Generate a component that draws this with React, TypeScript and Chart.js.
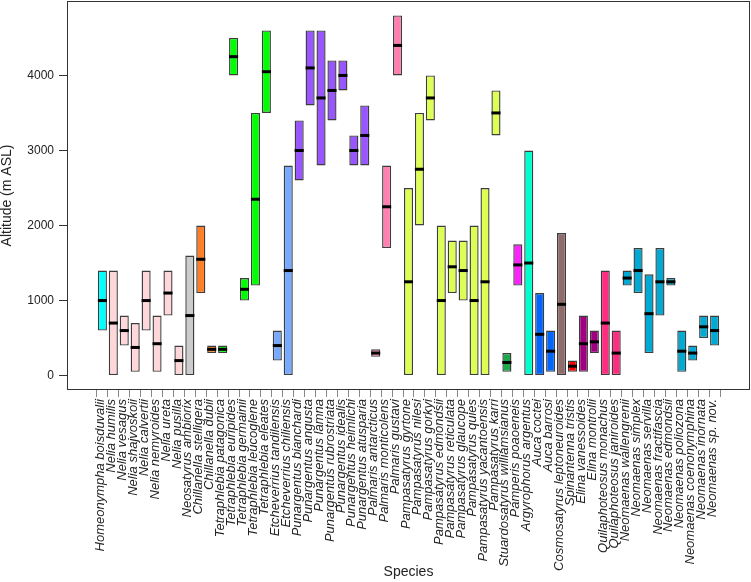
import React, { useEffect, useRef } from "react";
import { Chart, registerables } from "chart.js";

Chart.register(...registerables);

const species = [
  "Homeonympha boisduvalii", "Nelia humilis", "Nelia vesagus", "Nelia shajvoskoii", "Nelia calvertii",
  "Nelia nemyroides", "Nelia ureta", "Nelia pusilla", "Neosatyrus ambiorix", "Chillanella stelligera",
  "Chillanella dubii", "Tetraphlebia patagonica", "Tetraphlebia euripides", "Tetraphlebia germainii",
  "Tetraphlebia leucoglene", "Tetraphlebia eleates", "Etcheverrius tandilensis", "Etcheverrius chiliensis",
  "Punargentus bianchardi", "Punargentus angusta", "Punargentus lamna", "Punargentus rubrostriata",
  "Punargentus idealis", "Punargentus heimlichi", "Punargentus atusparia", "Palmaris antarcticus",
  "Palmaris monticolens", "Palmaris gustavi", "Pampasatyrus gyrtone", "Pampasatyrus nilesi",
  "Pampasatyrus gorkyi", "Pampasatyrus edmondsii", "Pampasatyrus reticulata", "Pampasatyrus glaucope",
  "Pampasatyrus quies", "Pampasatyrus yacantoensis", "Pampasatyrus karri", "Stuardosatyrus williamsianus",
  "Pamperis poaoeneis", "Argyrophorus argentus", "Auca coctei", "Auca barrosi",
  "Cosmosatyrus leptoneuroides", "Spinantenna tristis", "Elina vanessoides", "Elina montrolii",
  "Quilaphoteosus monachus", "Quilaphoteosus janiroides", "Neomaenas wallengrenii", "Neomaenas simplex",
  "Neomaenas servilla", "Neomaenas fractifascia", "Neomaenas edmondsii", "Neomaenas poliozona",
  "Neomaenas coenonymphina", "Neomaenas inornata", "Neomaenas sp. nov.",
];

const minAltitude = [
  600, 0, 400, 50, 600, 50, 800, 0, 0, 1100,
  300, 300, 4000, 1000, 1200, 3500, 200, 0, 2600, 3600,
  2800, 3400, 3800, 2800, 2800, 250, 1700, 4000, 0, 2000,
  3400, 0, 1100, 1000, 0, 0, 3200, 50, 1200, 0,
  0, 50, 0, 50, 50, 300, 0, 0, 1200, 1100,
  300, 800, 1200, 50, 200, 500, 400,
];

const maxAltitude = [
  1400, 1400, 800, 700, 1400, 800, 1400, 400, 1600, 2000,
  400, 400, 4500, 1300, 3500, 4600, 600, 2800, 3400, 4600,
  4600, 4200, 4200, 3200, 3600, 350, 2800, 4800, 2500, 3500,
  4000, 2000, 1800, 1800, 2000, 2500, 3800, 300, 1750, 3000,
  1100, 600, 1900, 200, 800, 600, 1400, 600, 1400, 1700,
  1350, 1700, 1300, 600, 400, 800, 800,
];

const medianAltitude = [
  1000, 700, 600, 375, 1000, 425, 1100, 200, 800, 1550,
  350, 350, 4250, 1150, 2350, 4050, 400, 1400, 3000, 4100,
  3700, 3800, 4000, 3000, 3200, 300, 2250, 4400, 1250, 2750,
  3700, 1000, 1450, 1400, 1000, 1250, 3500, 175, 1475, 1500,
  550, 325, 950, 125, 425, 450, 700, 300, 1300, 1400,
  825, 1250, 1250, 325, 300, 650, 600,
];

const yTickValues = [0, 1000, 2000, 3000, 4000];

const genusColors: Record<string, string> = {
  Homeonympha: "#00FFFF",
  Nelia: "#FFD7DA",
  Neosatyrus: "#CCCCCC",
  Chillanella: "#FF7F27",
  Tetraphlebia: "#00FF00",
  Etcheverrius: "#77AAFF",
  Punargentus: "#9955FF",
  Palmaris: "#FF80B0",
  Pampasatyrus: "#DDFF55",
  Stuardosatyrus: "#1DAA4A",
  Pamperis: "#FF22FF",
  Argyrophorus: "#00FFCC",
  Auca: "#0066FF",
  Cosmosatyrus: "#8F6B6B",
  Spinantenna: "#FF0000",
  Elina: "#A00080",
  Quilaphoteosus: "#FF2D80",
  Neomaenas: "#00AAD4",
};

const FONT = "'Liberation Sans', Arial, Helvetica, sans-serif";
const MEDIAN_HALF = 20; // half thickness of the median mark, in altitude units

const boxPlugin = {
  id: "plotBox",
  afterDraw(chart: any) {
    const { ctx, chartArea } = chart;
    ctx.save();
    ctx.strokeStyle = "#333333";
    ctx.lineWidth = 1;
    ctx.strokeRect(chartArea.left + 0.5, chartArea.top + 0.5, chartArea.right - chartArea.left - 1, chartArea.bottom - chartArea.top - 1);
    ctx.restore();
  },
};

export default function App() {
  const canvasRef = useRef<HTMLCanvasElement | null>(null);

  useEffect(() => {
    if (!canvasRef.current) return;
    const xs = species.map((_, i) => i + 1);
    const colors = species.map((s) => genusColors[s.split(" ")[0]] || "#999999");

    const chart = new Chart(canvasRef.current, {
      type: "bar",
      data: {
        datasets: [
          {
            label: "Median",
            order: 0,
            data: xs.map((x, i) => ({ x, y: [medianAltitude[i] - MEDIAN_HALF, medianAltitude[i] + MEDIAN_HALF] })) as any,
            backgroundColor: "#000000",
            borderWidth: 0,
            categoryPercentage: 1,
            barPercentage: 0.83,
            grouped: false,
          } as any,
          {
            label: "Range",
            order: 1,
            data: xs.map((x, i) => ({ x, y: [minAltitude[i], maxAltitude[i]] })) as any,
            backgroundColor: colors,
            borderColor: "rgba(40,40,40,0.9)",
            borderWidth: 1.4,
            borderSkipped: false,
            categoryPercentage: 1,
            barPercentage: 0.83,
            grouped: false,
          } as any,
        ],
      },
      options: {
        animation: false,
        responsive: true,
        maintainAspectRatio: false,
        layout: { autoPadding: false, padding: { top: 1, right: 1, left: 0, bottom: 0 } } as any,
        plugins: {
          legend: { display: false },
          tooltip: { enabled: false },
        },
        events: [],
        scales: {
          x: {
            type: "linear",
            min: -1.69,
            max: 59.69,
            afterFit(scale: any) {
              scale.height = 192;
              scale.paddingLeft = 0;
              scale.paddingRight = 0;
            },
            afterBuildTicks(scale: any) {
              scale.ticks = xs.map((v) => ({ value: v }));
            },
            grid: {
              display: true,
              drawOnChartArea: false,
              drawTicks: true,
              tickLength: 7,
              color: "#888888",
              lineWidth: 1,
            },
            border: { display: false },
            ticks: {
              autoSkip: false,
              maxRotation: 90,
              minRotation: 90,
              padding: 2,
              labelOffset: -2,
              color: "#222222",
              font: { family: FONT, size: 13, style: "italic" },
              callback: (v: any) => species[Number(v) - 1] ?? "",
            },
            title: {
              display: true,
              text: "Species",
              color: "#222222",
              font: { family: FONT, size: 14 },
              padding: { top: 0, bottom: 1 },
            },
          },
          y: {
            type: "linear",
            min: -192,
            max: 4992,
            afterFit(scale: any) {
              scale.width = 67;
              scale.paddingTop = 0;
              scale.paddingBottom = 0;
            },
            afterBuildTicks(scale: any) {
              scale.ticks = yTickValues.map((v) => ({ value: v }));
            },
            grid: {
              display: true,
              drawOnChartArea: false,
              drawTicks: true,
              tickLength: 8,
              color: "#333333",
              lineWidth: 1,
            },
            border: { display: false },
            ticks: {
              padding: 5,
              color: "#222222",
              font: { family: FONT, size: 12 },
              callback: (v: any) => String(v),
            },
            title: {
              display: true,
              text: "Altitude (m ASL)",
              color: "#222222",
              font: { family: FONT, size: 14, lineHeight: 1 },
              padding: { top: 0, bottom: 0 },
            },
          },
        },
      },
      plugins: [boxPlugin],
    });

    return () => chart.destroy();
  }, []);

  return (
    <div style={{ position: "absolute", left: 0, top: 0, width: 751, height: 582, background: "#ffffff" }}>
      <canvas ref={canvasRef} />
    </div>
  );
}
